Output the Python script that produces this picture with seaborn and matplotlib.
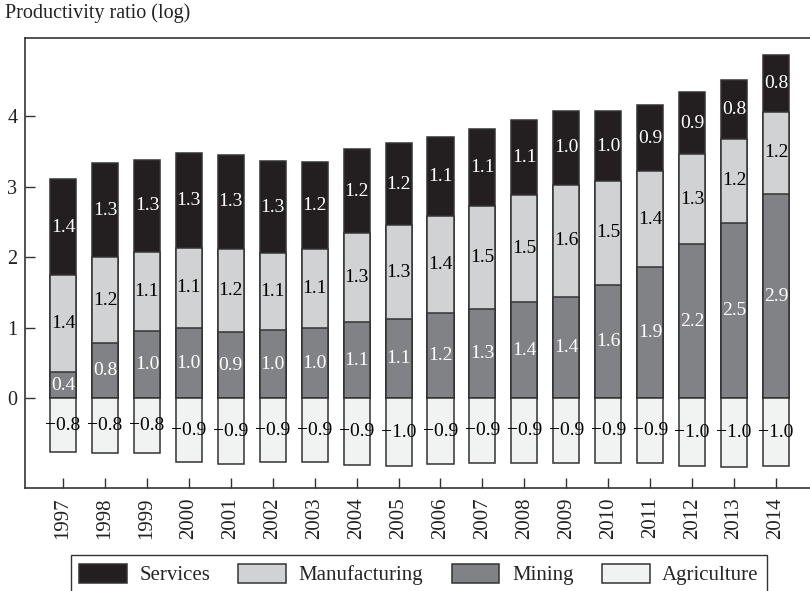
import numpy as np
import matplotlib
matplotlib.use("Agg")
import matplotlib.pyplot as plt
from matplotlib.patches import Patch
import seaborn as sns

# Values (log productivity ratio components)
years = [str(y) for y in range(1997, 2015)]
mining = [0.37, 0.78, 0.96, 1.00, 0.94, 0.97, 1.00, 1.08, 1.13,
          1.21, 1.27, 1.36, 1.44, 1.61, 1.86, 2.18, 2.49, 2.90]
manufacturing = [1.375, 1.22, 1.12, 1.13, 1.18, 1.09, 1.11, 1.26, 1.32,
                 1.38, 1.46, 1.52, 1.59, 1.47, 1.36, 1.28, 1.18, 1.16]
services = [1.365, 1.33, 1.30, 1.345, 1.33, 1.30, 1.24, 1.19, 1.17,
            1.12, 1.09, 1.07, 1.04, 0.99, 0.93, 0.88, 0.84, 0.80]
agriculture = [-0.76, -0.77, -0.78, -0.90, -0.93, -0.90, -0.90, -0.94, -0.96,
               -0.93, -0.91, -0.92, -0.92, -0.91, -0.91, -0.96, -0.97, -0.96]

series_names = ["Services", "Manufacturing", "Mining", "Agriculture"]
colors = {"Services": "#231f20", "Manufacturing": "#d1d2d4",
          "Mining": "#808285", "Agriculture": "#f1f2f2"}
text_colors = {"Services": "white", "Manufacturing": "black",
               "Mining": "white", "Agriculture": "black"}

sns.set_theme(style="white")
plt.rcParams['font.family'] = ['Liberation Serif', 'DejaVu Serif']

EDGE = "#333333"

fig = plt.figure(figsize=(8.1, 5.91), dpi=100)
ax = fig.add_axes([0.0309, 0.1743, 0.9691, 0.7619])

mining_arr = np.array(mining)
manu_top = mining_arr + np.array(manufacturing)
serv_top = manu_top + np.array(services)

# draw cumulative layers, tallest first so each boundary gets its own edge
layers = [("Services", serv_top), ("Manufacturing", manu_top),
          ("Mining", mining_arr), ("Agriculture", np.array(agriculture))]
for name, vals in layers:
    sns.barplot(x=years, y=vals, color=colors[name], saturation=1, width=0.62,
                edgecolor=EDGE, linewidth=1.1, ax=ax)

# segment labels
def fmt(v):
    return f"{v:.1f}".replace("-", "\u2212")

bases = {"Mining": np.zeros(len(years)), "Manufacturing": mining_arr,
         "Services": manu_top, "Agriculture": np.zeros(len(years))}
segs = {"Mining": mining, "Manufacturing": manufacturing,
        "Services": services, "Agriculture": agriculture}
for name in series_names:
    for i, v in enumerate(segs[name]):
        ax.text(i, bases[name][i] + v / 2, fmt(v), ha="center", va="center",
                fontsize=14, color=text_colors[name])

ax.set_xlim(-0.906, 17.81)
ax.set_ylim(-1.27, 5.11)
ax.set_yticks([0, 1, 2, 3, 4])
ax.set_yticklabels(["0", "1", "2", "3", "4"])
ax.set_xticks(range(len(years)))
ax.set_xticklabels(years, rotation=90)
ax.tick_params(axis="y", direction="in", length=7, width=1, color=EDGE,
               pad=5.5, labelsize=14.5, left=True, labelcolor="#222222")
ax.tick_params(axis="x", direction="in", length=7, width=1, color=EDGE,
               pad=6.5, labelsize=15, bottom=True, labelcolor="#222222")
ax.set_xlabel("")
ax.set_ylabel("Productivity ratio (log)", rotation=0, fontsize=14.5,
              ha="left", va="center", color="#222222")
ax.yaxis.set_label_coords(-0.0255, 1.055)

for side in ["left", "top", "bottom"]:
    ax.spines[side].set_color(EDGE)
    ax.spines[side].set_linewidth(1.2)
ax.spines["right"].set_visible(False)

handles = [Patch(facecolor=colors[n], edgecolor=EDGE, linewidth=1.1) for n in series_names]
leg = fig.legend(handles, series_names, loc="center", bbox_to_anchor=(0.517, 0.028),
                 ncol=4, frameon=True, fancybox=False, edgecolor="black",
                 handlelength=2.3, handleheight=1.05, handletextpad=0.6,
                 columnspacing=1.35, fontsize=15, borderpad=0.4)
leg.get_frame().set_linewidth(1.0)

fig.savefig("out.png", dpi=100)
